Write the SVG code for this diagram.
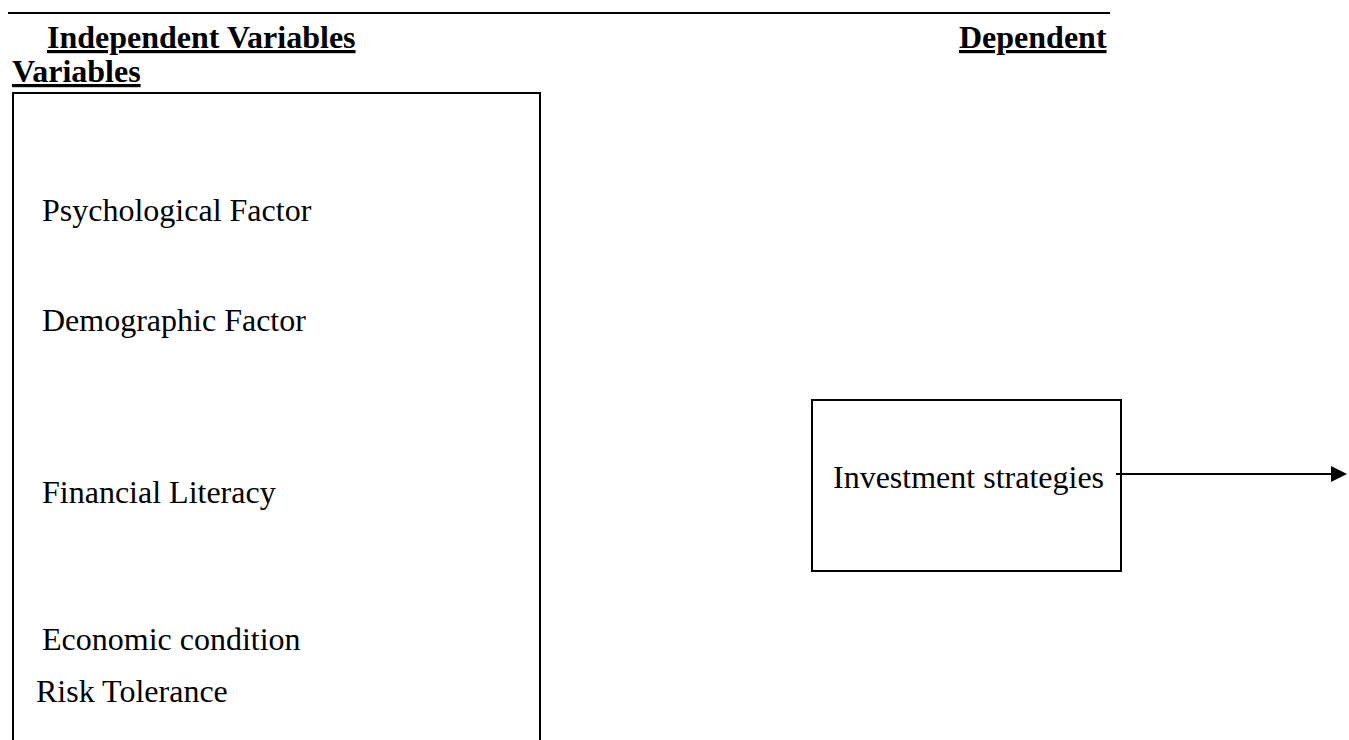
<svg xmlns="http://www.w3.org/2000/svg" width="1349" height="740" viewBox="0 0 1349 740">
<defs>
<style>
.t{font-family:"Liberation Serif","Times New Roman",serif;font-size:32px;fill:#000}
.h{font-family:"Liberation Serif","Times New Roman",serif;font-size:32px;font-weight:bold;fill:#000;text-decoration:underline}
.box{fill:none;stroke:#000;stroke-width:2}
.conn{fill:none;stroke:#000;stroke-width:2}
</style>
<marker id="arr" markerWidth="8" markerHeight="8" refX="7" refY="4" orient="auto" markerUnits="strokeWidth">
<path d="M0,0 L8,4 L0,8 Z" fill="#000"/>
</marker>
</defs>
<rect width="1349" height="740" fill="#fff"/>
<line x1="8" y1="13" x2="1110" y2="13" stroke="#000" stroke-width="2"/>
<g id="headings">
<text class="h" x="47" y="48">Independent Variables</text>
<text class="h" x="959" y="48">Dependent</text>
<text class="h" x="12" y="82">Variables</text>
</g>
<g id="independent">
<path class="box" d="M13,741 V93 H540 V741"/>
<text class="t" x="42" y="221">Psychological Factor</text>
<text class="t" x="42" y="331">Demographic Factor</text>
<text class="t" x="42" y="503">Financial Literacy</text>
<text class="t" x="42" y="650">Economic condition</text>
<text class="t" x="36" y="702">Risk Tolerance</text>
</g>
<g id="dependent">
<rect class="box" x="812" y="400" width="309" height="171"/>
<text class="t" x="833" y="488">Investment strategies</text>
</g>
<g id="connectors">
<line class="conn" x1="1116" y1="474" x2="1345" y2="474" marker-end="url(#arr)"/>
</g>
</svg>
